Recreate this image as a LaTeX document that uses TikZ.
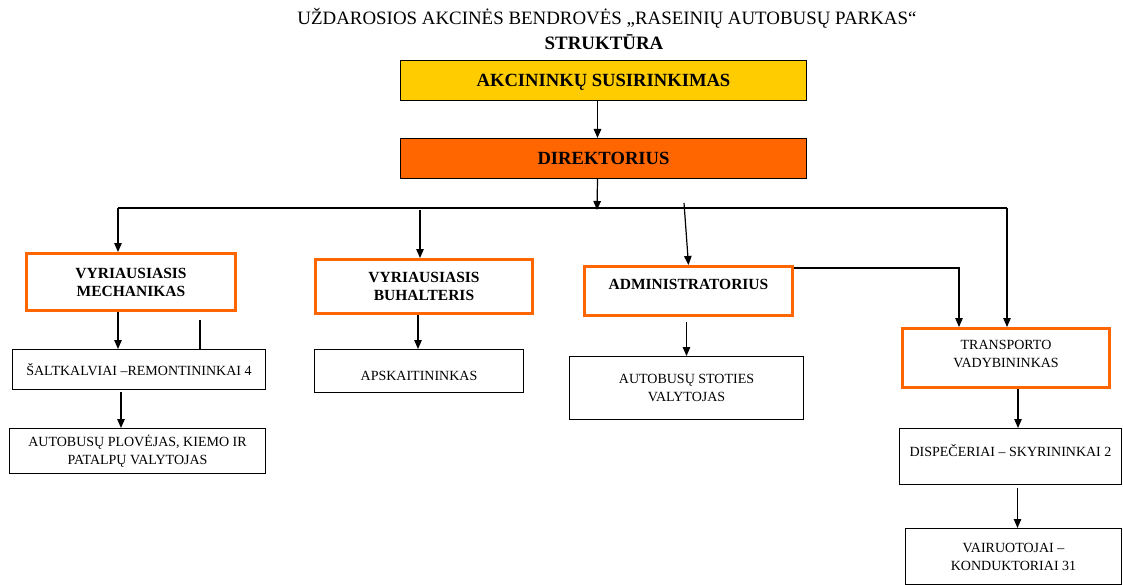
\documentclass[tikz,border=0pt]{standalone}
\usepackage{fontspec}
\setmainfont{Liberation Serif}
\usetikzlibrary{arrows.meta}
\definecolor{yel}{HTML}{FFCC00}
\definecolor{org}{HTML}{FF6600}
\begin{document}
\begin{tikzpicture}[x=1pt,y=-1pt,
  box/.style={draw=black, line width=1pt, inner sep=0pt, anchor=north west, align=center,
    font=\fontsize{14}{18}\selectfont},
  obox/.style={box, draw=org, line width=3pt, font=\bfseries\fontsize{15.5}{18}\selectfont},
  topbox/.style={box, line width=1pt, font=\bfseries\fontsize{18.6}{20}\selectfont},
  ln/.style={draw=black, line width=1.2pt},
  arr/.style={ln, -{Triangle[length=9pt,width=7.5pt]}}
]
\useasboundingbox (0,0) rectangle (1123,585);
\clip (0,0) rectangle (1123,585);
% title
\node (t1) at (607,18) {\fontsize{18.9}{20}\selectfont UŽDAROSIOS AKCINĖS BENDROVĖS „RASEINIŲ AUTOBUSŲ PARKAS“};
\node (t2) at (604,42) {\fontsize{18.9}{20}\selectfont\bfseries STRUKTŪRA};
% top boxes
\node[topbox, fill=yel, minimum width=406, minimum height=40, text height=12.5pt, text depth=0pt] (ak) at (400,60) {AKCININKŲ SUSIRINKIMAS};
\node[topbox, fill=org, minimum width=406, minimum height=40, text height=12.5pt, text depth=0pt] (dir) at (400,138) {DIREKTORIUS};
% second level
\node[obox, minimum width=209, minimum height=57] (mech) at (25,252) {VYRIAUSIASIS\\MECHANIKAS};
\node[obox, minimum width=217, minimum height=54] (buh) at (314,258) {VYRIAUSIASIS\\BUHALTERIS};
\node[obox, minimum width=208, minimum height=49] (adm) at (583,265) {ADMINISTRATORIUS\\[-4pt]};
\node[obox, font=\fontsize{14}{18}\selectfont, minimum width=207, minimum height=59] (trans) at (901,327) {TRANSPORTO\\VADYBININKAS\\[-10pt]};
% third level
\node[box, minimum width=253, minimum height=40, text height=11pt, text depth=0pt] (salt) at (12,349) {ŠALTKALVIAI –REMONTININKAI 4};
\node[box, minimum width=256, minimum height=45] (plov) at (9,428) {AUTOBUSŲ PLOVĖJAS, KIEMO IR\\PATALPŲ VALYTOJAS};
\node[box, minimum width=209, minimum height=43, text height=19pt, text depth=0pt] (apsk) at (314,349) {APSKAITININKAS};
\node[box, minimum width=234, minimum height=63] (stot) at (569,356) {AUTOBUSŲ STOTIES\\VALYTOJAS};
\node[box, minimum width=222, minimum height=56] (disp) at (899,428) {DISPEČERIAI – SKYRININKAI 2\\[-6pt]};
\node[box, minimum width=216, minimum height=56] (vair) at (905,528) {VAIRUOTOJAI –\\KONDUKTORIAI 31};
% connectors
\coordinate (hl) at (118,208);
\coordinate (hr) at (1007,208);
\coordinate (hub) at (597,210);
\coordinate (b1) at (420,210);
\coordinate (a1) at (684,203);
\coordinate (s1) at (200,320);
\draw[arr] ([xshift=-6pt]ak.south) -- ([xshift=-6pt]dir.north);
\draw[arr] ([xshift=-6pt]dir.south) -- (hub);
\draw[ln] (hl) -- (hr);
\draw[arr] (hl) -- (hl |- mech.north);
\draw[arr] (b1) -- (b1 |- buh.north);
\draw[arr] (a1) -- (adm.north);
\draw[arr] (hr) -- (hr |- trans.north);
\draw[arr] ([yshift=-3pt]adm.north east) -| ([xshift=-47pt]trans.north);
\draw[arr] (mech.south -| hl) -- (salt.north -| hl);
\draw[ln] (s1) -- (s1 |- salt.north);
\draw[arr] ([xshift=-18pt,yshift=-2pt]salt.south) -- ([xshift=-18pt]salt.south |- plov.north);
\draw[arr] ([xshift=-6pt]buh.south) -- ([xshift=-6pt]buh.south |- apsk.north);
\draw[arr] ([xshift=-2pt,yshift=-5pt]adm.south) -- ([xshift=-2pt]adm.south |- stot.north);
\draw[arr] ([xshift=12pt]trans.south) -- ([xshift=12pt]trans.south |- disp.north);
\draw[arr] ([xshift=7pt,yshift=-3pt]disp.south) -- ([xshift=7pt]disp.south |- vair.north);
\end{tikzpicture}
\end{document}
